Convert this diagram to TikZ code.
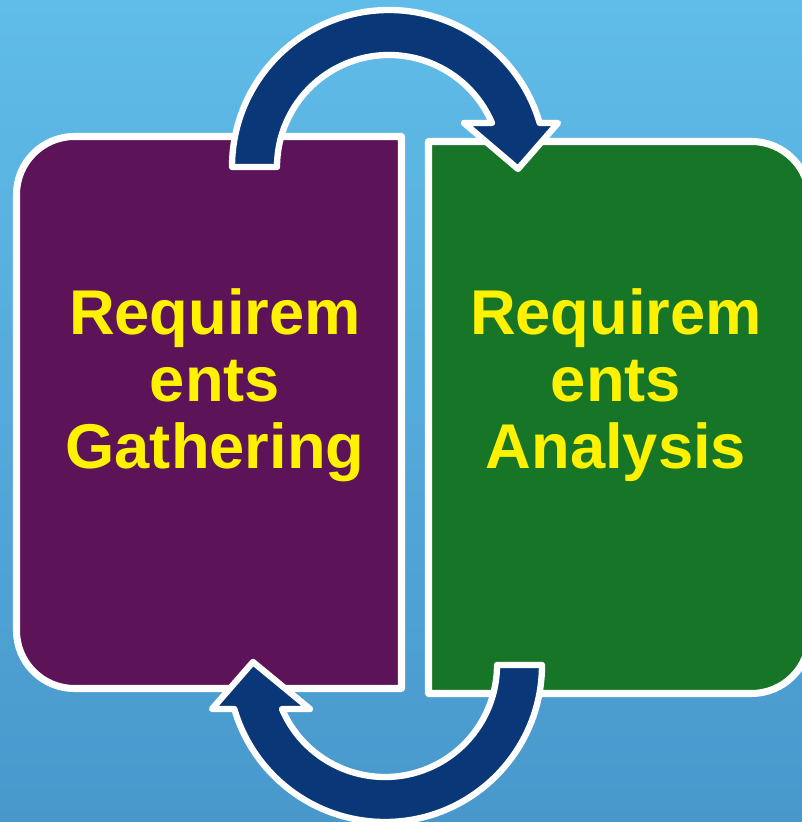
\documentclass[tikz,border=0pt]{standalone}
\usepackage{fontspec}
\setmainfont{Liberation Sans}
\usetikzlibrary{calc,positioning}

\definecolor{skytop}{RGB}{96,188,232}
\definecolor{skybot}{RGB}{72,152,204}
\definecolor{gathercol}{RGB}{92,19,88}
\definecolor{analysecol}{RGB}{23,117,39}
\definecolor{loopcol}{RGB}{10,55,120}

\begin{document}
\begin{tikzpicture}[x=0.025cm,y=0.025cm,
	boxline/.style={draw=white,line width=5pt,line join=round},
	looparrow/.style={draw=white,fill=loopcol,line width=4.5pt,line join=round},
	phase/.style={text=yellow,font=\fontsize{45pt}{47.7pt}\selectfont\bfseries,align=center,inner sep=0pt}]
		\useasboundingbox (0,0) rectangle (802,822);
		\clip (0,0) rectangle (802,822);
		\shade[top color=skytop,bottom color=skybot] (0,0) rectangle (802,822);
		\draw[boxline,fill=gathercol] (401.5,133.5) -- (401.5,685.5) -- (74.5,685.5)
			arc[start angle=90,end angle=180,radius=58] -- (16.5,191.5)
			arc[start angle=180,end angle=270,radius=58] -- cycle;
		\draw[boxline,fill=analysecol] (428.5,680.5) -- (751.5,680.5)
			arc[start angle=90,end angle=0,radius=58] -- (809.5,186.5)
			arc[start angle=0,end angle=-90,radius=58] -- (428.5,128.5) -- cycle;
		\node[phase] (gather) at (215,437) {Requirem\\ents\\Gathering};
		\node[phase] (analyse) at (616,437) {Requirem\\ents\\Analysis};
		\coordinate (ctop) at (389,655);
		\coordinate (cbot) at (385,157);
		\path[looparrow] ([shift={(180:157)}]ctop) arc[start angle=180,end angle=16.3,radius=157]
			-- (558,699) -- (518,653) -- (464,699) -- ([shift={(23.1:112)}]ctop)
			arc[start angle=23.1,end angle=180,radius=112] -- cycle;
		\path[looparrow] ([shift={(0:157)}]cbot) arc[start angle=0,end angle=-163.7,radius=157]
			-- (212,113) -- (253,160) -- (310,113) -- ([shift={(-156.9:112)}]cbot)
			arc[start angle=-156.9,end angle=0,radius=112] -- cycle;
	\end{tikzpicture}
\end{document}
